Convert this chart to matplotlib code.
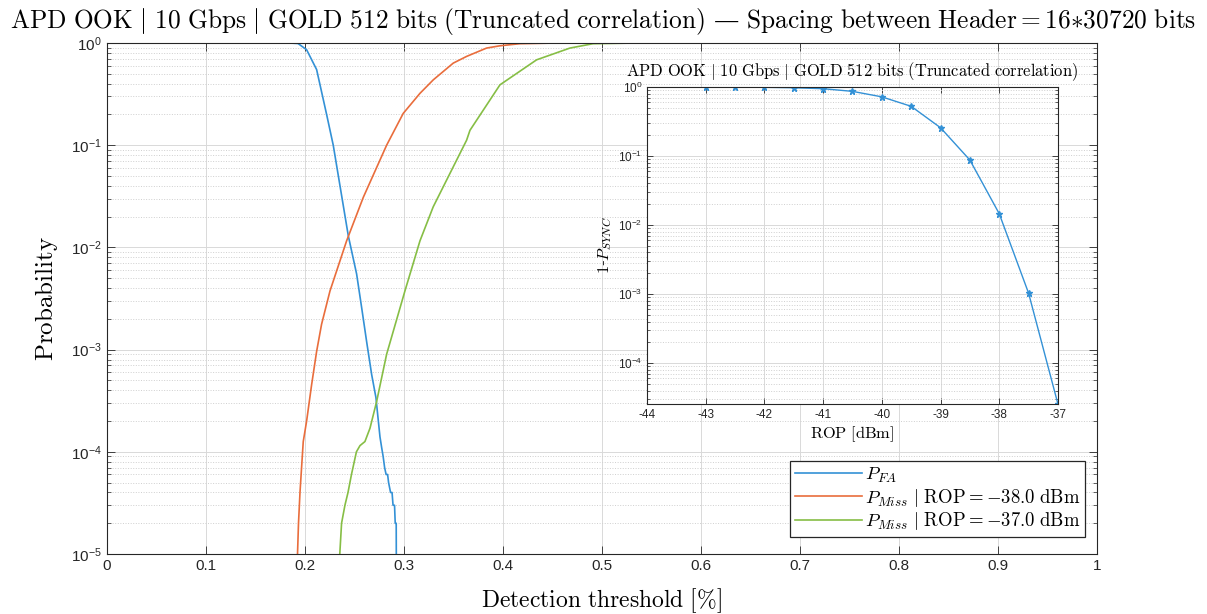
import numpy as np
import matplotlib.pyplot as plt
from matplotlib.ticker import LogLocator, NullFormatter, NullLocator, FuncFormatter, MultipleLocator

plt.rcParams['font.family'] = ['Liberation Sans', 'DejaVu Sans']

# P_FA vs detection threshold
thr_fa = [0, 0.185, 0.193, 0.2017, 0.2118, 0.2219, 0.2286, 0.2438, 0.2522, 0.2573,
          0.2623, 0.2674, 0.2717, 0.2758, 0.2775, 0.279, 0.2805, 0.282, 0.2835,
          0.2845, 0.2865, 0.288, 0.289, 0.2905, 0.2912, 0.2922, 0.2926]
p_fa = [1, 1, 0.99, 0.86, 0.55, 0.2, 0.1, 0.013, 5.5e-3, 2.57e-3,
        1.2e-3, 5.7e-4, 3.4e-4, 1.4e-4, 1.1e-4, 9e-5, 7e-5, 6e-5, 6e-5,
        5e-5, 4e-5, 4e-5, 3e-5, 3e-5, 2e-5, 2e-5, 1e-6]

# P_Miss, ROP = -38 dBm
thr_m38 = [0.1923, 0.1925, 0.1935, 0.195, 0.1966, 0.1983, 0.2017, 0.2067, 0.2118, 0.2168,
           0.2253, 0.2421, 0.259, 0.2825, 0.2993, 0.3162, 0.3296, 0.3498, 0.3633, 0.3835,
           0.397, 0.417, 0.45, 1.0]
p_m38 = [1e-6, 1e-5, 2e-5, 4e-5, 7e-5, 1.26e-4, 2e-4, 4.5e-4, 9.6e-4, 1.77e-3,
         3.75e-3, 0.0116, 0.031, 0.1, 0.205, 0.322, 0.436, 0.636, 0.74, 0.893,
         0.94, 0.985, 0.999, 1]

# P_Miss, ROP = -37 dBm
thr_m37 = [0.2347, 0.2352, 0.237, 0.2404, 0.2435, 0.247, 0.252, 0.2556, 0.2606, 0.2657,
           0.2724, 0.2825, 0.301, 0.3162, 0.3296, 0.3633, 0.3667, 0.397, 0.434, 0.4677,
           0.491, 0.53, 1.0]
p_m37 = [1e-6, 1e-5, 2e-5, 3e-5, 4e-5, 6e-5, 1e-4, 1.15e-4, 1.26e-4, 1.7e-4,
         3.1e-4, 9e-4, 3.75e-3, 0.0116, 0.025, 0.112, 0.14, 0.39, 0.685, 0.893,
         0.985, 0.999, 1]

# inset: 1 - P_SYNC vs ROP
rop = [-43, -42.5, -42, -41.5, -41, -40.5, -40, -39.5, -39, -38.5, -38, -37.5, -37]
p_nosync = [0.995, 0.993, 0.99, 0.975, 0.945, 0.865, 0.72, 0.525, 0.257, 0.0875,
            0.0146, 1.03e-3, 2.55e-5]

c_blue = '#3391D6'
c_orange = '#E96D3C'
c_green = '#86BE45'
dark = '#262626'


def matlab_style(a, fs, major_len, minor_len):
    a.tick_params(which='both', direction='in', top=True, right=True,
                  colors=dark, labelsize=fs)
    a.tick_params(which='major', length=major_len, width=0.6)
    a.tick_params(which='minor', length=minor_len, width=0.5)
    for s in a.spines.values():
        s.set_color(dark)
        s.set_linewidth(0.8)
    a.grid(True, which='major', color='#d9d9d9', linewidth=0.7)
    a.grid(True, which='minor', axis='y', color='#cfcfcf', linestyle=':', linewidth=0.7)
    a.set_axisbelow(True)
    a.yaxis.set_minor_locator(LogLocator(base=10, subs=np.arange(2, 10), numticks=20))
    a.yaxis.set_minor_formatter(NullFormatter())
    a.xaxis.set_minor_locator(NullLocator())


fig = plt.figure(figsize=(12.07, 6.14), dpi=100)

# main axes
ax = fig.add_axes([0.0886, 0.0977, 0.8202, 0.8322])
ax.set_yscale('log')
ax.plot(thr_fa, p_fa, color=c_blue, lw=1.2, label=r'$P_{FA}$')
ax.plot(thr_m38, p_m38, color=c_orange, lw=1.2,
        label=r'$P_{Miss}\ |\ \mathrm{ROP} = \mathrm{-38.0\ dBm}$')
ax.plot(thr_m37, p_m37, color=c_green, lw=1.2,
        label=r'$P_{Miss}\ |\ \mathrm{ROP} = \mathrm{-37.0\ dBm}$')
ax.set_xlim(0, 1)
ax.set_ylim(1e-5, 1)
ax.xaxis.set_major_locator(MultipleLocator(0.1))
ax.xaxis.set_major_formatter(FuncFormatter(lambda v, p: '%g' % round(v, 2)))
matlab_style(ax, 11, 6, 3)

ax.set_xlabel(r'$\mathrm{Detection\ threshold\ [\%]}$', fontsize=17, math_fontfamily='cm')
ax.xaxis.set_label_coords(0.5, -0.064)
ax.set_ylabel(r'$\mathrm{Probability}$', fontsize=18, math_fontfamily='cm')
ax.yaxis.set_label_coords(-0.047, 0.5)

leg = ax.legend(loc='lower right', bbox_to_anchor=(0.988, 0.033), borderaxespad=0,
                fancybox=False, edgecolor=dark, framealpha=1, fontsize=13.5,
                handlelength=3.6, borderpad=0.25, labelspacing=0.1, handletextpad=0.15)
leg.get_frame().set_linewidth(0.9)
for t in leg.get_texts():
    t.set_math_fontfamily('cm')

fig.text(0.5, 0.965,
         r'$\mathrm{APD\ OOK}\ |\ \mathrm{10\ Gbps}\ |\ \mathrm{GOLD\ 512\ bits\ (Truncated\ correlation)}$'
         r' — $\mathrm{Spacing\ between\ Header} = \mathrm{16{*}30720\ bits}$',
         ha='center', va='center', fontsize=18.3, family='DejaVu Serif', math_fontfamily='cm')

# inset
ins = fig.add_axes([0.536, 0.342, 0.3405, 0.5163])
ins.set_facecolor('white')
ins.set_yscale('log')
ins.plot(rop, p_nosync, color=c_blue, lw=1.0, marker='*', ms=5)
ins.set_xlim(-44, -37)
ins.set_ylim(2.55e-5, 1)
ins.xaxis.set_major_locator(MultipleLocator(1))
ins.xaxis.set_major_formatter(FuncFormatter(lambda v, p: '%d' % v))
matlab_style(ins, 8.5, 4, 2)
ins.set_title(r'$\mathrm{APD\ OOK}\ |\ \mathrm{10\ Gbps}\ |\ \mathrm{GOLD\ 512\ bits\ (Truncated\ correlation)}$',
              fontsize=11.9, math_fontfamily='cm', pad=8)
ins.set_xlabel(r'$\mathrm{ROP\ [dBm]}$', fontsize=11.8, math_fontfamily='cm')
ins.xaxis.set_label_coords(0.5, -0.063)
ins.set_ylabel(r'$\mathrm{1}$-$P_{SYNC}$', fontsize=11.8, family='DejaVu Serif', math_fontfamily='cm')
ins.yaxis.set_label_coords(-0.08, 0.5)

fig.savefig('out.png', dpi=100)
